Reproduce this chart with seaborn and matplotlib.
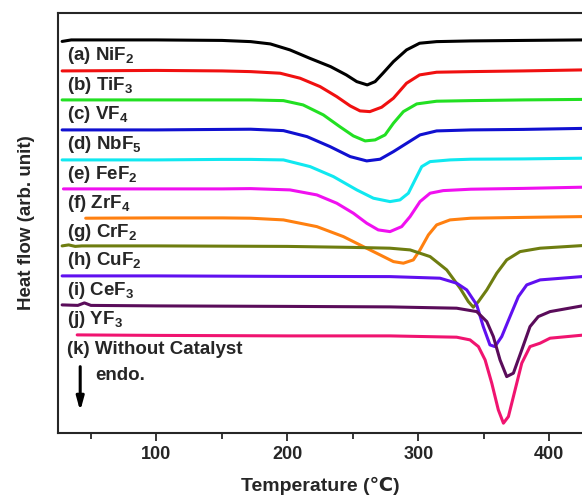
import numpy as np
import matplotlib
matplotlib.use('Agg')
import matplotlib.pyplot as plt
import seaborn as sns
from matplotlib.ticker import MultipleLocator

# DSC curves (temperature in C, heat flow in arb. unit)
labels = [r'(a) NiF$_2$', r'(b) TiF$_3$', r'(c) VF$_4$', r'(d) NbF$_5$', r'(e) FeF$_2$',
          r'(f) ZrF$_4$', r'(g) CrF$_2$', r'(h) CuF$_2$', r'(i) CeF$_3$', r'(j) YF$_3$',
          '(k) Without Catalyst']
colors = ['#000000', '#f01010', '#22e022', '#1010d0', '#10e8f0', '#f010f0',
          '#ff8010', '#6e7d10', '#6010f0', '#5a0c5a', '#f01470']

T_a = [28, 35, 100, 150, 172, 187, 202, 217, 233, 245, 253, 261, 267, 273, 281, 291, 301, 314, 340, 380, 425]
H_a = [391.5, 393, 393, 392.5, 391.3, 389, 383, 374.7, 366.3, 358, 351.3, 348, 351.3, 359.7, 371.3, 383,
       389.7, 391.3, 392, 392.5, 393]

T_b = [28, 100, 150, 172, 194.5, 209.7, 225, 237.7, 248, 255.5, 263, 272, 281, 291, 301, 314, 340, 380, 425]
H_b = [362, 362.5, 362, 361.3, 359.7, 354.7, 346.3, 336.3, 327, 322, 321.3, 325.7, 334.7, 349.7, 358,
       360.7, 361.3, 362, 363]

T_c = [28, 100, 172, 197, 212, 227.5, 240, 250.4, 259.4, 267, 274.6, 281, 288.6, 298.8, 314, 340, 380, 425]
H_c = [333, 333, 333, 332.3, 328, 318, 306.3, 297, 292, 293, 298, 309.7, 321.3, 329, 331.7, 332.3, 333, 333.5]

T_d = [28, 100, 150, 172, 197, 215, 232.6, 248, 260.6, 270.8, 281, 291.2, 301.3, 314, 340, 380, 425]
H_d = [303, 303, 303.5, 303.7, 302.3, 296.3, 286.3, 276.3, 272, 273.7, 281.3, 289.7, 298, 302, 303,
       303.5, 304.5]

T_e = [28, 100, 150, 172, 197, 217.4, 235.2, 253, 265.7, 278.4, 286, 292.4, 297.5, 302.6, 309, 324.2,
       340, 380, 425]
H_e = [273, 273, 273.5, 273.5, 273, 266.3, 256.3, 243, 234.7, 231.3, 233, 239.7, 253, 266.3, 271.3, 273,
       273.7, 274, 274.7]

T_f = [29, 100, 150, 172, 202, 222.5, 237.7, 250.4, 260.6, 269.4, 278.4, 287.3, 293.7, 301.3, 309, 319,
       340, 380, 425]
H_f = [244, 244, 244, 244.3, 243, 238, 229.7, 219.7, 209.7, 203, 201.3, 206.3, 216.3, 231.3, 239.7, 242.3,
       243.7, 244.5, 245.7]

T_g = [46, 100, 150, 172, 197, 222.5, 242.8, 258, 270.8, 281, 288.6, 296.2, 301.3, 307.7, 314, 324.2,
       340, 380, 425]
H_g = [214.7, 215, 215, 214.7, 213, 206.3, 196.3, 186.3, 178, 171.3, 169.7, 173, 183, 198, 208, 213,
       214.7, 215.5, 216.3]

T_h = [28, 33, 38, 43, 100, 200, 250, 278.4, 293.7, 309, 321.7, 331.9, 338.2, 342, 345.9, 352.3, 359.9,
       367.5, 377.7, 393, 425]
H_h = [187, 188, 186.5, 187, 187, 186.5, 185.5, 184.7, 183, 176.3, 163, 144.7, 131.3, 125.7, 131.3, 143,
       159.7, 173, 181.3, 184.7, 187.3]

T_i = [28, 100, 200, 278.4, 316.6, 329.3, 337, 344.6, 349.6, 354.7, 358.5, 363.7, 370, 376.4, 382.8,
       393, 425]
H_i = [157, 157, 156.5, 156.3, 154.7, 149.7, 143, 128, 106.3, 88, 86.3, 96.3, 116.3, 136.3, 148, 153, 156.3]

T_j = [28, 40, 45, 50, 100, 200, 278.4, 329.3, 344.6, 352.3, 357.3, 362.4, 367.5, 372.6, 379, 385.3,
       391.6, 400.6, 425]
H_j = [128, 127.5, 130, 127.5, 127, 126.5, 126, 124.7, 121.3, 111.3, 96.3, 73, 56.3, 59.7, 83, 106.3,
       116.3, 121.3, 127]

T_k = [39.5, 100, 200, 278.4, 329.3, 339.5, 345.9, 351, 356.1, 361.1, 365, 368.8, 373.9, 379, 385.3,
       393, 400.6, 425]
H_k = [98, 97.5, 97, 97, 95.7, 93, 86.3, 73, 49.7, 23, 9.7, 16.3, 43, 69.7, 86.3, 89.7, 94.7, 97.7]

temps = [T_a, T_b, T_c, T_d, T_e, T_f, T_g, T_h, T_i, T_j, T_k]
flows = [H_a, H_b, H_c, H_d, H_e, H_f, H_g, H_h, H_i, H_j, H_k]

sns.set_style('ticks')
plt.rcParams['font.family'] = ['Liberation Sans', 'DejaVu Sans']
plt.rcParams['font.weight'] = 'bold'
plt.rcParams['mathtext.fontset'] = 'custom'
plt.rcParams['mathtext.rm'] = 'Liberation Sans:bold'
plt.rcParams['mathtext.bf'] = 'Liberation Sans:bold'
plt.rcParams['mathtext.it'] = 'Liberation Sans:bold'

fig = plt.figure(figsize=(5.82, 4.97), dpi=100)
ax = fig.add_axes([0.1, 0.129, 0.9, 0.845])

for T, H, c in zip(temps, flows, colors):
    sns.lineplot(x=T, y=H, color=c, linewidth=2.2, estimator=None, sort=False, ax=ax,
                 solid_joinstyle='round', solid_capstyle='round')

# labels sit just under the start of each curve
for T, H, lab in zip(temps, flows, labels):
    ax.text(31.5, H[0] - 19, lab, fontsize=13.5, fontweight='bold', va='baseline', ha='left')

ax.annotate('', xy=(41.8, 19), xytext=(41.8, 69),
            arrowprops=dict(arrowstyle='-|>,head_width=0.22,head_length=0.8', color='black', lw=2.2))
ax.text(53, 53, 'endo.', fontsize=13.5, fontweight='bold', va='baseline')

ax.set_xlim(25, 425)
ax.set_ylim(0, 420)
ax.set_yticks([])
ax.xaxis.set_major_locator(MultipleLocator(100))
ax.xaxis.set_minor_locator(MultipleLocator(50))
ax.tick_params(axis='x', which='major', direction='out', length=6, width=1.3, labelsize=13)
ax.tick_params(axis='x', which='minor', direction='out', length=4, width=1.3)
for lab in ax.get_xticklabels():
    lab.set_fontweight('bold')
ax.spines['right'].set_visible(False)
for s in ['left', 'top', 'bottom']:
    ax.spines[s].set_linewidth(1.5)

ax.set_xlabel('Temperature (℃)', fontsize=14, fontweight='bold', labelpad=10)
ax.set_ylabel('Heat flow (arb. unit)', fontsize=13.5, fontweight='bold', labelpad=17)

fig.savefig('out.png', dpi=100)
